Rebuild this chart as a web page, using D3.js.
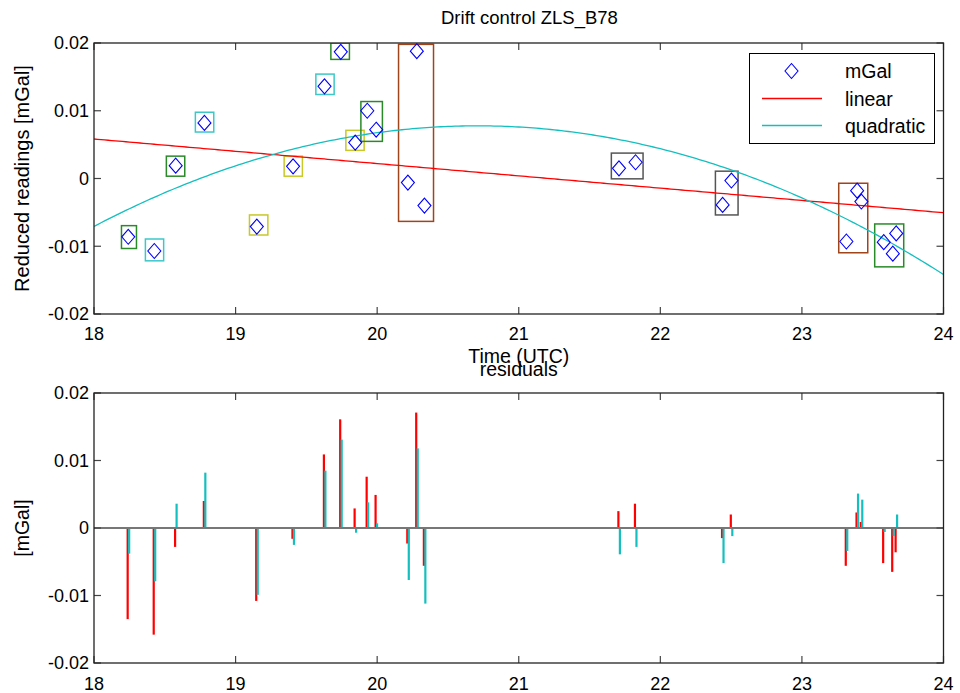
<!DOCTYPE html>
<html><head><meta charset="utf-8">
<script src="https://cdn.jsdelivr.net/npm/d3@7"></script>
<style>
body{margin:0;background:#fff}
text{font-family:"Liberation Sans",Arial,Helvetica,sans-serif;fill:#000}
</style>
</head><body>
<svg id="c" width="960" height="693"></svg>
<script>
// ---- data ----
const times = [18.242,18.426,18.577,18.780,19.150,19.406,19.628,19.743,19.845,19.930,19.993,20.217,20.280,20.334,21.708,21.825,22.440,22.502,23.314,23.390,23.420,23.578,23.642,23.666];
const readings = [-0.0086,-0.0107,0.0019,0.0082,-0.0071,0.0018,0.0136,0.0187,0.0053,0.0100,0.0072,-0.0006,0.0188,-0.0040,0.0015,0.0024,-0.0039,-0.0003,-0.0093,-0.0018,-0.0034,-0.0094,-0.0111,-0.0081];
const residLinear = [-0.0135,-0.0158,-0.0028,0.0040,-0.0108,-0.0016,0.0109,0.0161,0.0029,0.0076,0.0049,-0.0023,0.0171,-0.0056,0.0025,0.0036,-0.0015,0.0020,-0.0056,0.0023,0.0009,-0.0052,-0.0065,-0.0036];
const residQuad = [-0.0038,-0.0079,0.0036,0.0082,-0.0099,-0.0025,0.0085,0.0131,-0.0007,0.0038,0.0007,-0.0077,0.0118,-0.0112,-0.0039,-0.0028,-0.0052,-0.0012,-0.0034,0.0051,0.0042,-0.0006,-0.0012,0.0020];
// station group boxes
const boxT0 = [18.194,18.363,18.511,18.716,19.098,19.343,19.567,19.673,19.779,19.885,20.151,21.654,22.389,23.260,23.514];
const boxT1 = [18.300,18.492,18.641,18.846,19.228,19.472,19.696,19.804,19.908,20.037,20.398,21.878,22.549,23.465,23.719];
const boxV0 = [-0.01033,-0.01215,0.00034,0.00686,-0.00834,0.00034,0.01240,0.01758,0.00415,0.00548,-0.00633,-0.00005,-0.00538,-0.01096,-0.01304];
const boxV1 = [-0.00696,-0.00893,0.00330,0.00978,-0.00538,0.00330,0.01541,0.02000,0.00711,0.01136,0.01980,0.00375,0.00108,-0.00070,-0.00671];
const boxKind = ["g","c","g","c","y","y","c","g","y","g","b","k","k","b","g"];
// fit coefficients (u = t - fitCenter)
const fitCenter = 21;
const linearCoef = [0.00039,-0.001813];
const quadCoef = [0.007600,-0.001182,-0.0020246];
const xTicks = [18,19,20,21,22,23,24];
const yTicks = [-0.02,-0.01,0,0.01,0.02];
const yTickLabels = ["-0.02","-0.01","0","0.01","0.02"];
const legendLabels = ["mGal","linear","quadratic"];
const titleTop = "Drift control ZLS_B78";
const titleBottom = "residuals";
const xLabel = "Time (UTC)";
const yLabelTop = "Reduced readings [mGal]";
const yLabelBottom = "[mGal]";

// ---- styles ----
const boxColors = {g:"#2a8a2a", c:"#3cc8c8", y:"#c8c828", b:"#a0441c", k:"#555555"};
const RED = "#ff0000", CYAN = "#14bfbf", BLUE = "#0000ff";
const FT = 18, FL = 19.5;

const svg = d3.select("#c");
const L = 94, R = 943.5;
const x = d3.scaleLinear().domain([18,24]).range([L,R]);
const yTop = d3.scaleLinear().domain([-0.02,0.02]).range([314,43]);
const yBot = d3.scaleLinear().domain([-0.02,0.02]).range([663,393]);

function frame(g, y, labelOffset){
  const [y0,y1] = y.range();
  const tk = 7;
  g.append("g").selectAll("line").data(xTicks).join("line")
    .attr("x1",d=>x(d)).attr("x2",d=>x(d)).attr("y1",y0).attr("y2",y0-tk)
    .attr("stroke","#444").attr("stroke-width",1.2);
  g.append("g").selectAll("line").data(xTicks).join("line")
    .attr("x1",d=>x(d)).attr("x2",d=>x(d)).attr("y1",y1).attr("y2",y1+tk)
    .attr("stroke","#444").attr("stroke-width",1.2);
  g.append("g").selectAll("line").data(yTicks).join("line")
    .attr("x1",L).attr("x2",L+tk).attr("y1",d=>y(d)).attr("y2",d=>y(d))
    .attr("stroke","#444").attr("stroke-width",1.2);
  g.append("g").selectAll("line").data(yTicks).join("line")
    .attr("x1",R).attr("x2",R-tk).attr("y1",d=>y(d)).attr("y2",d=>y(d))
    .attr("stroke","#444").attr("stroke-width",1.2);
  g.append("rect").attr("x",L).attr("y",y1).attr("width",R-L).attr("height",y0-y1)
    .attr("fill","none").attr("stroke","#222").attr("stroke-width",1.3);
  g.append("g").selectAll("text").data(xTicks).join("text")
    .attr("x",d=>x(d)).attr("y",y0+labelOffset).attr("text-anchor","middle")
    .attr("font-size",FT).text(d=>d);
  g.append("g").selectAll("text").data(yTicks).join("text")
    .attr("x",L-5).attr("y",d=>y(d)).attr("dy","0.36em").attr("text-anchor","end")
    .attr("font-size",FT).text((d,i)=>yTickLabels[i]);
}

// ---- top panel ----
const gt = svg.append("g");
svg.append("clipPath").attr("id","clipTop").append("rect")
  .attr("x",L).attr("y",43).attr("width",R-L).attr("height",271);
const gtc = gt.append("g").attr("clip-path","url(#clipTop)");

const tGrid = d3.range(0,241).map(i=>18+i*0.025);
const linF = t => linearCoef[0]+linearCoef[1]*(t-fitCenter);
const quadF = t => { const u=t-fitCenter; return quadCoef[0]+quadCoef[1]*u+quadCoef[2]*u*u; };

gtc.append("g").selectAll("rect").data(boxT0).join("rect")
  .attr("x",(d,i)=>x(boxT0[i])).attr("width",(d,i)=>x(boxT1[i])-x(boxT0[i]))
  .attr("y",(d,i)=>yTop(boxV1[i])).attr("height",(d,i)=>yTop(boxV0[i])-yTop(boxV1[i]))
  .attr("fill","none").attr("stroke",(d,i)=>boxColors[boxKind[i]]).attr("stroke-width",1.5);

gtc.append("path").datum(tGrid).attr("fill","none").attr("stroke",RED).attr("stroke-width",1.3)
  .attr("d",d3.line().x(t=>x(t)).y(t=>yTop(linF(t))));
gtc.append("path").datum(tGrid).attr("fill","none").attr("stroke",CYAN).attr("stroke-width",1.3)
  .attr("d",d3.line().x(t=>x(t)).y(t=>yTop(quadF(t))));

const diamond = (cx,cy)=>`M${cx},${cy-7.5}L${cx+6.5},${cy}L${cx},${cy+7.5}L${cx-6.5},${cy}Z`;
gtc.append("g").selectAll("path").data(times).join("path")
  .attr("d",(d,i)=>diamond(x(d),yTop(readings[i])))
  .attr("fill","none").attr("stroke",BLUE).attr("stroke-width",1.1);

frame(gt, yTop, 26);

// legend
const lg = gt.append("g");
lg.append("rect").attr("x",749.5).attr("y",53.5).attr("width",185).attr("height",90)
  .attr("fill","#fff").attr("stroke","#000").attr("stroke-width",1);
const rowsY = [71,98.5,125.5];
lg.append("path").attr("d",diamond(791.5,rowsY[0])).attr("fill","none").attr("stroke",BLUE).attr("stroke-width",1.1);
lg.append("line").attr("x1",762).attr("x2",822).attr("y1",rowsY[1]).attr("y2",rowsY[1]).attr("stroke",RED).attr("stroke-width",1.3);
lg.append("line").attr("x1",762).attr("x2",822).attr("y1",rowsY[2]).attr("y2",rowsY[2]).attr("stroke",CYAN).attr("stroke-width",1.3);
lg.selectAll("text").data(legendLabels).join("text")
  .attr("x",845).attr("y",(d,i)=>rowsY[i]).attr("dy","0.36em").attr("font-size",FL).text(d=>d);

gt.append("text").attr("x",441).attr("y",24).attr("text-anchor","start").attr("font-size",18.5).text(titleTop);
gt.append("text").attr("x",(L+R)/2).attr("y",363).attr("text-anchor","middle").attr("font-size",FL).text(xLabel);
gt.append("text").attr("transform",`translate(29,${(43+314)/2}) rotate(-90)`).attr("text-anchor","middle").attr("font-size",FL+0.5).text(yLabelTop);

// ---- bottom panel ----
const gb = svg.append("g");
gb.append("g").selectAll("line").data(times).join("line")
  .attr("x1",d=>x(d)-0.6).attr("x2",d=>x(d)-0.6)
  .attr("y1",yBot(0)).attr("y2",(d,i)=>yBot(residLinear[i]))
  .attr("stroke",RED).attr("stroke-width",2.2);
gb.append("g").selectAll("line").data(times).join("line")
  .attr("x1",d=>x(d)+0.9).attr("x2",d=>x(d)+0.9)
  .attr("y1",yBot(0)).attr("y2",(d,i)=>yBot(residQuad[i]))
  .attr("stroke",CYAN).attr("stroke-width",2.2);
gb.append("line").attr("x1",L).attr("x2",R).attr("y1",yBot(0)).attr("y2",yBot(0))
  .attr("stroke","#777").attr("stroke-width",2);
frame(gb, yBot, 27);
gb.append("text").attr("x",(L+R)/2).attr("y",376).attr("text-anchor","middle").attr("font-size",FL).text(titleBottom);
gb.append("text").attr("transform",`translate(29,${(393+663)/2}) rotate(-90)`).attr("text-anchor","middle").attr("font-size",FL).text(yLabelBottom);
</script>
</body></html>
